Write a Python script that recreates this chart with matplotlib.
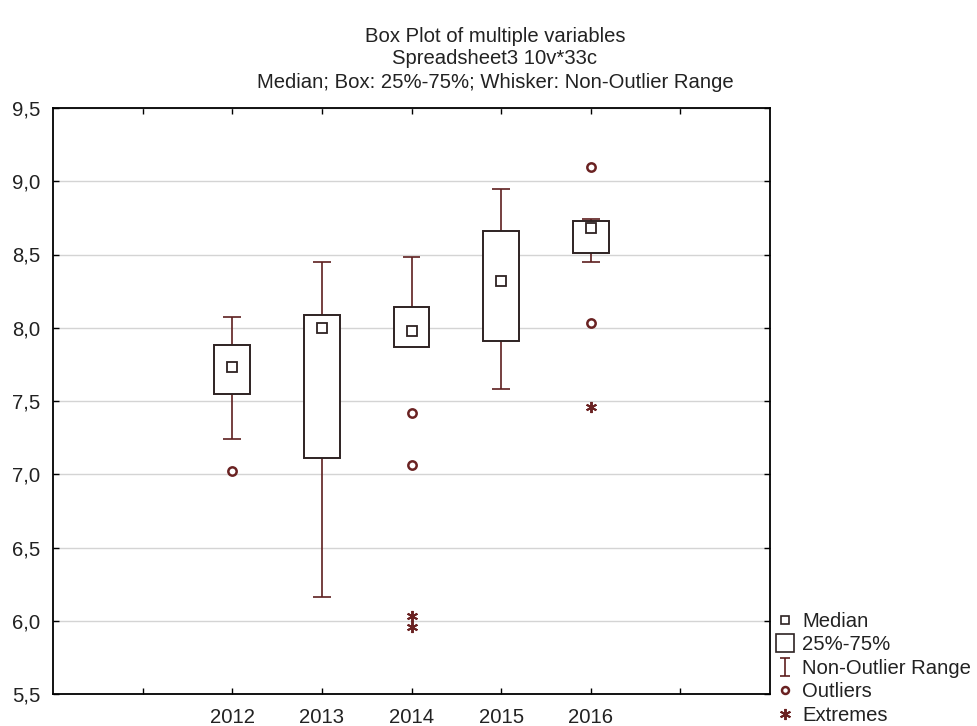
import matplotlib
matplotlib.use("Agg")
import matplotlib.pyplot as plt
from matplotlib.lines import Line2D
from matplotlib.path import Path
from matplotlib.ticker import FuncFormatter

plt.rcParams["font.family"] = ["Liberation Sans", "DejaVu Sans"]

years = ["2012", "2013", "2014", "2015", "2016"]
medians = [7.73, 8.00, 7.98, 8.32, 8.68]
q1 = [7.55, 7.11, 7.87, 7.91, 8.51]
q3 = [7.88, 8.09, 8.14, 8.66, 8.73]
whisk_lo = [7.24, 6.16, 7.87, 7.58, 8.45]
whisk_hi = [8.07, 8.45, 8.48, 8.95, 8.74]
outliers = [[7.02], [], [7.42, 7.06], [], [9.10, 8.03]]
extremes = [[], [], [6.03, 5.96], [], [7.46]]

BOX_C = "#2e2222"
WHISK_C = "#5e1f1f"
MARK_C = "#6a2222"
FS = 14.6

# I-beam marker for the whisker legend entry
ibeam = Path(
    [(-0.6, -1), (0.6, -1), (0, -1), (0, 1), (-0.6, 1), (0.6, 1)],
    [Path.MOVETO, Path.LINETO, Path.MOVETO, Path.LINETO, Path.MOVETO, Path.LINETO],
)

fig = plt.figure(figsize=(9.77, 7.26), dpi=100)
ax = fig.add_axes([53 / 977, 1 - 694 / 726, (770 - 53) / 977, (694 - 108) / 726])

pos = list(range(1, len(years) + 1))

for x, lo, a, m, b, hi, outs, exts in zip(pos, whisk_lo, q1, medians, q3, whisk_hi, outliers, extremes):
    ax.vlines(x, lo, a, color=WHISK_C, lw=1.2, zorder=2)
    ax.vlines(x, b, hi, color=WHISK_C, lw=1.2, zorder=2)
    if lo < a:
        ax.hlines(lo, x - 0.1, x + 0.1, color=WHISK_C, lw=1.2, zorder=2)
    ax.hlines(hi, x - 0.1, x + 0.1, color=WHISK_C, lw=1.2, zorder=2)
    ax.bar(x, b - a, bottom=a, width=0.4, facecolor="white", edgecolor=BOX_C, lw=1.4, zorder=3)
    ax.plot([x], [m], marker="s", ms=6.5, mfc="white", mec=BOX_C, mew=1.3, zorder=4)
    if outs:
        ax.plot([x] * len(outs), outs, ls="none", marker="o", ms=6, mfc="white", mec=MARK_C, mew=1.8, zorder=4)
    if exts:
        ax.plot([x] * len(exts), exts, ls="none", marker=(6, 2, 0), ms=8, color=MARK_C, mew=1.4, zorder=4)

ax.set_xlim(-1, 7)
ax.set_ylim(5.5, 9.5)
ax.set_xticks(range(0, 7))
ax.set_xticklabels([""] + years + [""], fontsize=FS)
ax.set_yticks([5.5, 6.0, 6.5, 7.0, 7.5, 8.0, 8.5, 9.0, 9.5])
ax.yaxis.set_major_formatter(FuncFormatter(lambda v, p: f"{v:.1f}".replace(".", ",")))
ax.tick_params(axis="both", direction="in", length=4, width=1, labelsize=FS,
               top=True, right=True, colors="black", labelcolor="#222222")
ax.tick_params(axis="x", pad=10)
ax.tick_params(axis="y", pad=9)
ax.grid(axis="y", color="#d4d4d4", lw=1)
ax.set_axisbelow(True)
for s in ax.spines.values():
    s.set_linewidth(1.3)
    s.set_color("black")

title_lines = ["Box Plot of multiple variables",
               "Spreadsheet3 10v*33c",
               "Median; Box: 25%-75%; Whisker: Non-Outlier Range"]
for i, line in enumerate(title_lines):
    fig.text(495 / 977, 1 - (36 + 23 * i) / 726, line,
             ha="center", va="center", fontsize=FS, color="#222222")

handles = [
    Line2D([], [], ls="none", marker="s", ms=5.5, mfc="white", mec=BOX_C, mew=1.2),
    Line2D([], [], ls="none", marker="s", ms=12.5, mfc="white", mec=BOX_C, mew=1.2),
    Line2D([], [], ls="none", marker=ibeam, ms=13, color=WHISK_C, mew=1.2),
    Line2D([], [], ls="none", marker="o", ms=5, mfc="white", mec=MARK_C, mew=1.8),
    Line2D([], [], ls="none", marker=(6, 2, 0), ms=8, color=MARK_C, mew=1.4),
]
labels = ["Median", "25%-75%", "Non-Outlier Range", "Outliers", "Extremes"]
fig.legend(handles, labels, loc="upper left", bbox_to_anchor=(775 / 977, 1 - 612 / 726),
           frameon=False, fontsize=FS, handlelength=1.0, handletextpad=0.35,
           labelspacing=0.22, borderaxespad=0, borderpad=0, labelcolor="#222222")

fig.savefig("out.png", dpi=100)
plt.close(fig)
